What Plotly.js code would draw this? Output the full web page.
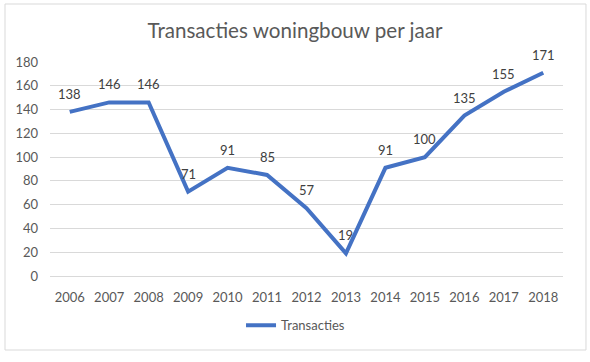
<!DOCTYPE html>
<html>
<head>
<meta charset="utf-8">
<script src="https://cdn.plot.ly/plotly-3.0.1.min.js"></script>
<style>
html,body{margin:0;padding:0;background:#fff;}
#chart{width:590px;height:362px;}
</style>
</head>
<body>
<div id="chart"></div>
<script>
const years = ['2006','2007','2008','2009','2010','2011','2012','2013','2014','2015','2016','2017','2018'];
const transacties = [138,146,146,71,91,85,57,19,91,100,135,155,171];
const yTicks = [0,20,40,60,80,100,120,140,160,180];

const font = 'Lato, "Open Sans", "Liberation Sans", sans-serif';

const trace = {
  x: years,
  y: transacties,
  type: 'scatter',
  mode: 'lines',
  name: 'Transacties',
  line: {color: '#4472C4', width: 4},
  hoverinfo: 'none'
};

// category axis: annotation x uses the category serial number
const labels = years.map((yr, i) => ({
  x: i, y: transacties[i], xref: 'x', yref: 'y',
  text: String(transacties[i]),
  showarrow: false,
  yshift: 18,
  font: {family: font, size: 13, color: '#404040'}
}));

const layout = {
  width: 590,
  height: 362,
  margin: {l: 50, r: 27, t: 62, b: 86},
  paper_bgcolor: '#ffffff',
  plot_bgcolor: '#ffffff',
  title: {
    text: 'Transacties woningbouw per jaar',
    font: {family: font, size: 20.6, color: '#595959'},
    x: 0.5, xanchor: 'center',
    y: 0.915, yanchor: 'middle'
  },
  xaxis: {
    type: 'category',
    range: [-0.5, 12.5],
    showgrid: false,
    zeroline: false,
    showline: true,
    linecolor: '#d9d9d9',
    linewidth: 1,
    ticks: '',
    ticklabelstandoff: 9,
    tickfont: {family: font, size: 13, color: '#595959'},
    fixedrange: true
  },
  yaxis: {
    range: [0, 180],
    tickvals: yTicks,
    ticktext: yTicks.map(String),
    showgrid: true,
    gridcolor: '#d9d9d9',
    gridwidth: 1,
    zeroline: false,
    showline: false,
    ticks: '',
    ticklabelstandoff: 11,
    tickfont: {family: font, size: 13, color: '#595959'},
    fixedrange: true
  },
  showlegend: true,
  legend: {
    orientation: 'h',
    x: 0.4786, xanchor: 'center',
    y: -0.23, yanchor: 'middle',
    font: {family: font, size: 13, color: '#595959'},
    itemwidth: 30
  },
  annotations: labels,
  shapes: [{
    type: 'rect', xref: 'paper', yref: 'paper',
    x0: -0.0877, x1: 1.0448, y0: -0.3458, y1: 1.271,
    line: {color: '#d9d9d9', width: 1},
    fillcolor: 'rgba(0,0,0,0)',
    layer: 'below'
  }]
};

Plotly.newPlot('chart', [trace], layout, {displayModeBar: false, staticPlot: true});
</script>
</body>
</html>
